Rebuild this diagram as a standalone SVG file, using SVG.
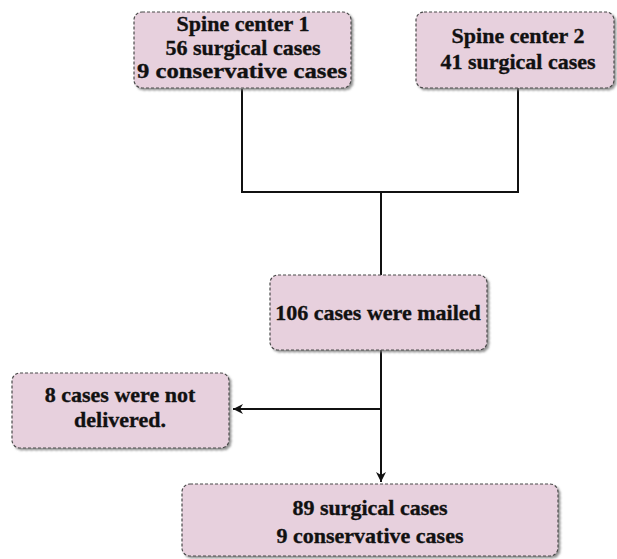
<svg xmlns="http://www.w3.org/2000/svg" width="617" height="559" viewBox="0 0 617 559">
<style>
.box{fill:#e7d0dd;stroke:#4a4a4a;stroke-width:1.2;stroke-dasharray:3 2;filter:url(#sh)}
.t{font-family:"Liberation Serif","Times New Roman",serif;font-weight:bold;font-size:22px;fill:#111;stroke:#111;stroke-width:0.35;text-anchor:middle}
.ln{fill:none;stroke:#111;stroke-width:2}
</style>
<defs>
<filter id="sh" x="-10%" y="-10%" width="120%" height="130%">
<feDropShadow dx="2" dy="2" stdDeviation="1.2" flood-color="#777" flood-opacity="0.8"/>
</filter>
<marker id="ah" viewBox="0 0 10 10" refX="10" refY="5" markerWidth="10" markerHeight="10" markerUnits="userSpaceOnUse" orient="auto">
<path d="M0,0 L10,5 L0,10 L3,5 Z" fill="#111"/>
</marker>
</defs>
<rect width="617" height="559" fill="#fff"/>
<g id="connectors">
<path class="ln" d="M242,89 V192 H518 V88"/>
<path class="ln" d="M381,192 V275"/>
<path class="ln" d="M381,350 V482" marker-end="url(#ah)"/>
<path class="ln" d="M381,409 H233" marker-end="url(#ah)"/>
</g>
<g id="center1">
<rect class="box" x="134" y="12" width="217" height="76" rx="8"/>
<text class="t" x="243" y="31">Spine center 1</text>
<text class="t" x="243" y="55">56 surgical cases</text>
<text class="t" x="242" y="78" textLength="210" lengthAdjust="spacingAndGlyphs">9 conservative cases</text>
</g>
<g id="center2">
<rect class="box" x="416" y="12" width="198" height="76" rx="8"/>
<text class="t" x="518" y="43">Spine center 2</text>
<text class="t" x="518" y="69">41 surgical cases</text>
</g>
<g id="mailed">
<rect class="box" x="270" y="275" width="217" height="75" rx="8"/>
<text class="t" x="378" y="320">106 cases were mailed</text>
</g>
<g id="notdelivered">
<rect class="box" x="12" y="373" width="217" height="75" rx="8"/>
<text class="t" x="120" y="402">8 cases were not</text>
<text class="t" x="120" y="427">delivered.</text>
</g>
<g id="result">
<rect class="box" x="182" y="484" width="376" height="72" rx="8"/>
<text class="t" x="370" y="515">89 surgical cases</text>
<text class="t" x="370" y="543">9 conservative cases</text>
</g>
</svg>
